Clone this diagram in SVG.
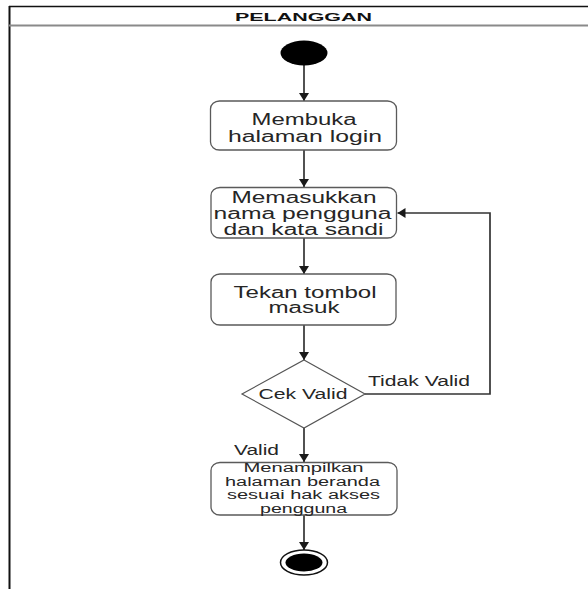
<svg xmlns="http://www.w3.org/2000/svg" width="588" height="589" viewBox="0 0 588 589">
<defs>
<style>
.t{font-family:"Liberation Sans",Arial,sans-serif;fill:#262626;text-anchor:middle}
.m{font-size:16px}
.s{font-size:12px}
.l{font-size:14px}
.h{font-size:11px;font-weight:bold;fill:#111}
.box{fill:#fff;stroke:#5a5a5a;stroke-width:1.3}
.edge{fill:none;stroke:#333;stroke-width:1.7}
</style>
<marker id="arr" markerUnits="userSpaceOnUse" markerWidth="12" markerHeight="12" refX="8" refY="5" orient="auto">
<path d="M0,0 L8,5 L0,10 Z" fill="#1a1a1a"/>
</marker>
</defs>
<rect width="588" height="589" fill="#fff"/>
<g id="frame">
<line x1="9" y1="6.5" x2="588" y2="6.5" stroke="#111" stroke-width="1.6"/>
<line x1="9.5" y1="6" x2="9.5" y2="589" stroke="#111" stroke-width="2"/>
<line x1="9" y1="25.5" x2="588" y2="25.5" stroke="#8a8a8a" stroke-width="2"/>
<text class="t h" x="303.5" y="20.7" textLength="137" lengthAdjust="spacingAndGlyphs">PELANGGAN</text>
</g>
<g id="connectors">
<line class="edge" x1="304" y1="65" x2="304" y2="101" marker-end="url(#arr)"/>
<line class="edge" x1="304" y1="150" x2="304" y2="187" marker-end="url(#arr)"/>
<line class="edge" x1="304" y1="238" x2="304" y2="274" marker-end="url(#arr)"/>
<line class="edge" x1="304" y1="325" x2="304" y2="360" marker-end="url(#arr)"/>
<line class="edge" x1="304" y1="428" x2="304" y2="462" marker-end="url(#arr)"/>
<line class="edge" x1="304" y1="515" x2="304" y2="550" marker-end="url(#arr)"/>
<polyline class="edge" points="365,394 490,394 490,213 397.5,213" marker-end="url(#arr)"/>
<text class="t l" x="419" y="385.7" textLength="102" lengthAdjust="spacingAndGlyphs">Tidak Valid</text>
<text class="t l" x="256.5" y="455" textLength="45" lengthAdjust="spacingAndGlyphs">Valid</text>
</g>
<g id="start">
<ellipse cx="304" cy="53" rx="23.5" ry="12.5" fill="#000"/>
</g>
<g id="membuka">
<rect class="box" x="210.5" y="101" width="186" height="49" rx="9" ry="8"/>
<text class="t m" x="304" y="125" textLength="105" lengthAdjust="spacingAndGlyphs">Membuka</text>
<text class="t m" x="305" y="142" textLength="154" lengthAdjust="spacingAndGlyphs">halaman login</text>
</g>
<g id="memasukkan">
<rect class="box" x="211" y="187.5" width="185.5" height="50.5" rx="9" ry="8"/>
<text class="t m" x="304" y="202.5" textLength="145" lengthAdjust="spacingAndGlyphs">Memasukkan</text>
<text class="t m" x="302.5" y="219" textLength="178" lengthAdjust="spacingAndGlyphs">nama pengguna</text>
<text class="t m" x="303.5" y="235" textLength="160" lengthAdjust="spacingAndGlyphs">dan kata sandi</text>
</g>
<g id="tekan">
<rect class="box" x="211" y="274" width="185" height="51" rx="9" ry="8"/>
<text class="t m" x="305" y="297.5" textLength="143" lengthAdjust="spacingAndGlyphs">Tekan tombol</text>
<text class="t m" x="304" y="313" textLength="71" lengthAdjust="spacingAndGlyphs">masuk</text>
</g>
<g id="cek">
<polygon points="304,360 365,394 304,428 242,394" fill="#fff" stroke="#555" stroke-width="1.2"/>
<text class="t l" x="303" y="398.5" textLength="89" lengthAdjust="spacingAndGlyphs">Cek Valid</text>
</g>
<g id="menampilkan">
<rect class="box" x="211" y="462.5" width="186" height="52.5" rx="9" ry="8"/>
<text class="t s" x="303.5" y="472" textLength="120" lengthAdjust="spacingAndGlyphs">Menampilkan</text>
<text class="t s" x="302.5" y="485.5" textLength="155" lengthAdjust="spacingAndGlyphs">halaman beranda</text>
<text class="t s" x="303.5" y="499" textLength="153" lengthAdjust="spacingAndGlyphs">sesuai hak akses</text>
<text class="t s" x="303.5" y="512.5" textLength="87" lengthAdjust="spacingAndGlyphs">pengguna</text>
</g>
<g id="end">
<ellipse cx="304" cy="562.5" rx="23.5" ry="12.5" fill="#fff" stroke="#111" stroke-width="1.5"/>
<ellipse cx="304" cy="562.5" rx="18.5" ry="9" fill="#000"/>
</g>
</svg>
